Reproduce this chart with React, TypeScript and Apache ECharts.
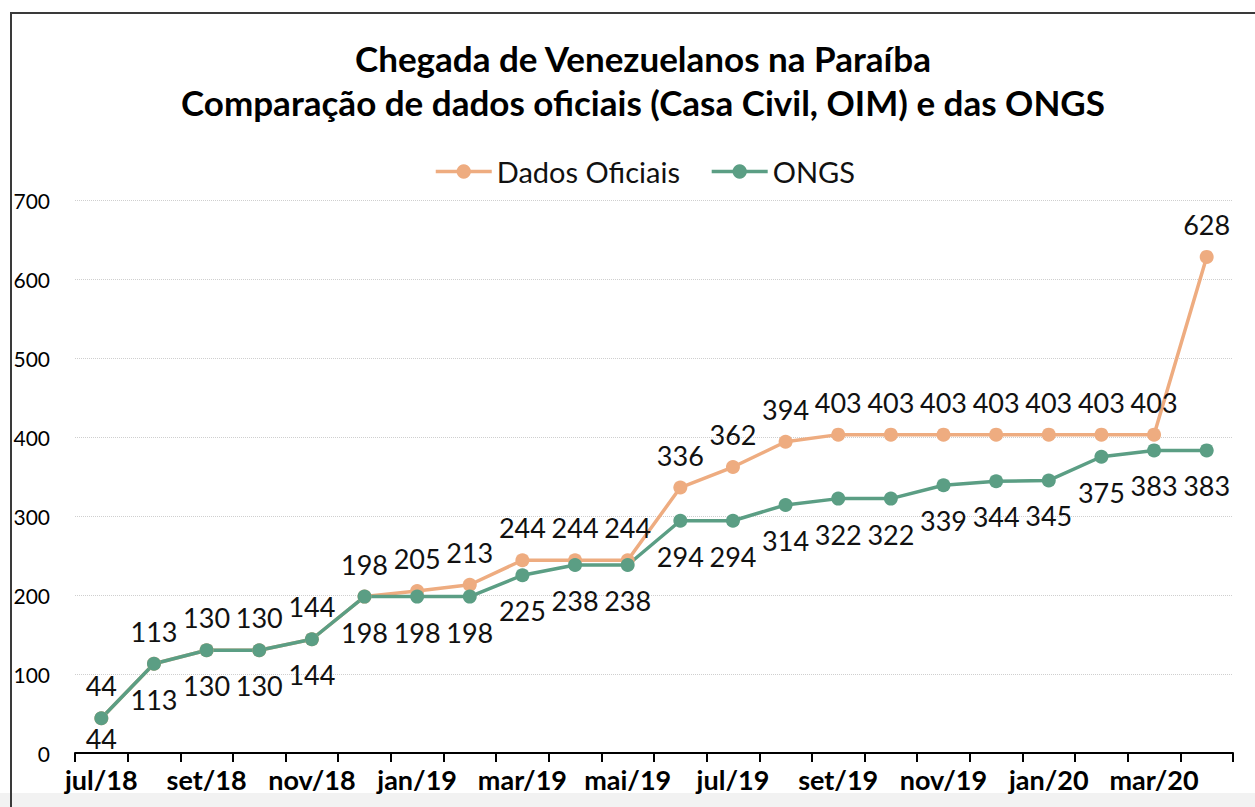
import React, { useEffect, useRef } from "react";
import * as echarts from "echarts";

const months = [
  "jul/18", "ago/18", "set/18", "out/18", "nov/18", "dez/18",
  "jan/19", "fev/19", "mar/19", "abr/19", "mai/19", "jun/19",
  "jul/19", "ago/19", "set/19", "out/19", "nov/19", "dez/19",
  "jan/20", "fev/20", "mar/20", "abr/20",
];
const dadosOficiais = [44, 113, 130, 130, 144, 198, 205, 213, 244, 244, 244, 336, 362, 394, 403, 403, 403, 403, 403, 403, 403, 628];
const ongs = [44, 113, 130, 130, 144, 198, 198, 198, 225, 238, 238, 294, 294, 314, 322, 322, 339, 344, 345, 375, 383, 383];
const titleLines = [
  "Chegada de Venezuelanos na Paraíba",
  "Comparação de dados oficiais (Casa Civil, OIM) e das ONGS",
];
const seriesNames = ["Dados Oficiais", "ONGS"];

const ORANGE = "#EEAC80";
const GREEN = "#5B9E84";
const FONT = "Lato, 'Open Sans', sans-serif";

export default function App() {
  const ref = useRef<HTMLDivElement>(null);
  useEffect(() => {
    if (!ref.current) return;
    const chart = echarts.init(ref.current, null, { renderer: "svg" });
    const labelStyle = {
      show: true,
      fontFamily: FONT,
      fontSize: 27,
      color: "#111",
    };
    chart.setOption({
      animation: false,
      backgroundColor: "#fff",
      textStyle: { fontFamily: FONT },
      graphic: [
        { type: "rect", z: -1, silent: true, shape: { x: 0, y: 793, width: 1255, height: 14 }, style: { fill: "#f2f2f2" } },
        { type: "rect", z: 0, silent: true, shape: { x: 11, y: 13, width: 1400, height: 900 }, style: { fill: "none", stroke: "#3a3a3a", lineWidth: 2 } },
      ],
      title: {
        text: titleLines.join("\n"),
        left: 638,
        textAlign: "center",
        top: 31,
        textStyle: { fontFamily: FONT, fontSize: 35, fontWeight: "bold", color: "#000", lineHeight: 44 },
      },
      legend: {
        top: 152,
        left: 429,
        itemWidth: 56,
        itemHeight: 18,
        itemGap: 30,
        lineStyle: { width: 3.5 },
        textStyle: { fontFamily: FONT, fontSize: 29, color: "#111" },
        data: seriesNames,
      },
      grid: { left: 75, right: 22, top: 200, bottom: 54, containLabel: false },
      xAxis: {
        type: "category",
        data: months,
        boundaryGap: true,
        axisLine: { lineStyle: { color: "#000", width: 2 } },
        axisTick: { show: true, interval: 0, length: 9, lineStyle: { color: "#000", width: 2 } },
        axisLabel: { interval: 1, margin: 13, fontFamily: FONT, fontSize: 27, fontWeight: "bold", color: "#000" },
      },
      yAxis: {
        type: "value",
        min: 0,
        max: 700,
        interval: 100,
        axisLine: { show: false },
        axisTick: { show: false },
        axisLabel: { margin: 25, fontFamily: FONT, fontSize: 21, color: "#000" },
        splitLine: { lineStyle: { color: "#cfcfcf", type: "dotted", width: 1 } },
      },
      series: [
        {
          name: seriesNames[0],
          type: "line",
          data: dadosOficiais,
          symbol: "circle",
          symbolSize: 14,
          lineStyle: { color: ORANGE, width: 3.5 },
          itemStyle: { color: ORANGE },
          label: { ...labelStyle, position: "top", distance: 12 },
        },
        {
          name: seriesNames[1],
          type: "line",
          data: ongs.map((v, i) => (i === 0 ? { value: v, label: { distance: 0 } } : v)),
          symbol: "circle",
          symbolSize: 14,
          lineStyle: { color: GREEN, width: 3.5 },
          itemStyle: { color: GREEN },
          label: { ...labelStyle, position: "bottom", distance: 15 },
        },
      ],
    });
    return () => chart.dispose();
  }, []);
  return (
    <div
      ref={ref}
      style={{ position: "fixed", left: 0, top: 0, width: 1255, height: 807 }}
    />
  );
}
